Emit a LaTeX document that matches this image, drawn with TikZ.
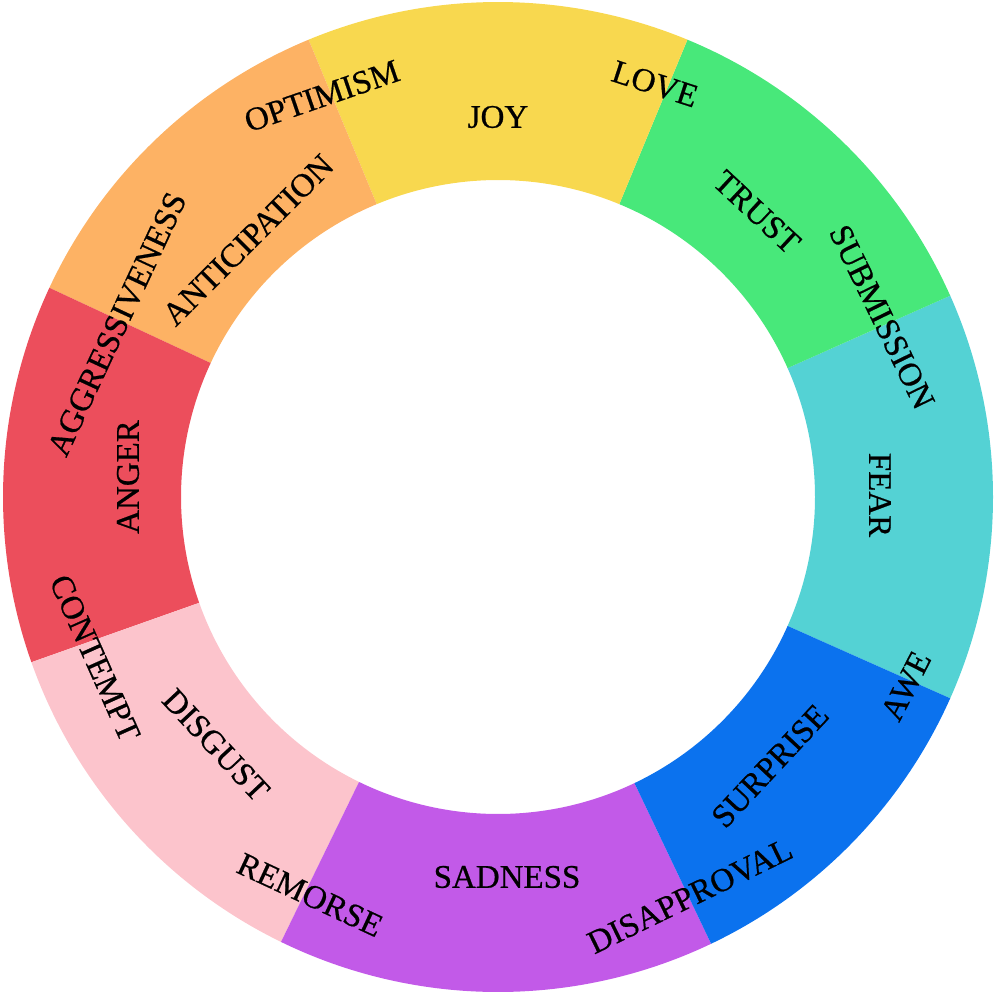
\documentclass[tikz,border=0pt]{standalone}
\usepackage{fontspec}
\setmainfont{Liberation Serif}
\newfontfamily\labfont[FakeBold=0.6]{Liberation Serif}
\definecolor{cjoy}{HTML}{F8D84F}
\definecolor{ctrust}{HTML}{48E87A}
\definecolor{cfear}{HTML}{54D2D4}
\definecolor{csurprise}{HTML}{0B72EE}
\definecolor{csadness}{HTML}{C25AE8}
\definecolor{cdisgust}{HTML}{FCC4CC}
\definecolor{canger}{HTML}{EC4E5C}
\definecolor{canticip}{HTML}{FDB264}
\tikzset{
  lab/.style={font=\labfont\fontsize{33}{33}\selectfont, inner sep=0pt, text=black},
}
\newcommand{\seg}[3]{%
  \fill[#1] (#2:495pt) arc[start angle=#2, end angle=#3, radius=495pt]
    -- (#3:317pt) arc[start angle=#3, end angle=#2, radius=317pt] -- cycle;}
\begin{document}
\begin{tikzpicture}
\useasboundingbox (0,0) rectangle (996pt,-993pt);
\begin{scope}[shift={(498pt,-497pt)}]
  \seg{cfear}{-24}{24}
  \seg{ctrust}{24}{67.5}
  \seg{cjoy}{67.5}{112.5}
  \seg{canticip}{112.5}{155}
  \seg{canger}{155}{199.5}
  \seg{cdisgust}{199.5}{244}
  \seg{csadness}{244}{295.5}
  \seg{csurprise}{295.5}{336}
\end{scope}
% primary emotions
\node[lab] (joy) at (498pt,-117pt) {JOY};
\node[lab, rotate=-43] (trust) at (757pt,-212pt) {TRUST};
\node[lab, rotate=-90] (fear) at (880pt,-495pt) {FEAR};
\node[lab, rotate=47] (surprise) at (770pt,-766pt) {SURPRISE};
\node[lab] (sadness) at (507pt,-877pt) {SADNESS};
\node[lab, rotate=-47] (disgust) at (216pt,-745pt) {DISGUST};
\node[lab, rotate=90] (anger) at (128pt,-477pt) {ANGER};
\node[lab, rotate=45] (anticipation) at (248pt,-240pt) {ANTICIPATION};
% dyads
\node[lab, rotate=19] (optimism) at (322pt,-96pt) {OPTIMISM};
\node[lab, rotate=-18] (love) at (655pt,-84pt) {LOVE};
\node[lab, rotate=-64] (submission) at (882pt,-317pt) {SUBMISSION};
\node[lab, rotate=63] (awe) at (906pt,-686pt) {AWE};
\node[lab, rotate=26] (disapproval) at (690pt,-896pt) {DISAPPROVAL};
\node[lab, rotate=-25] (remorse) at (310pt,-895pt) {REMORSE};
\node[lab, rotate=-66] (contempt) at (95pt,-658pt) {CONTEMPT};
\node[lab, rotate=65] (aggressiveness) at (117pt,-324pt) {AGGRESSIVENESS};
\end{tikzpicture}
\end{document}
